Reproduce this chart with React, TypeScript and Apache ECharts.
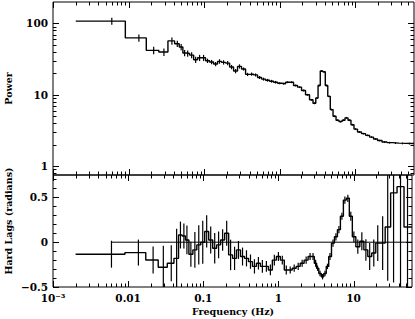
import React, { useEffect, useRef } from 'react';
import * as echarts from 'echarts';

// ---- data ----
const freqs = [0.0060, 0.0137, 0.0215, 0.0294, 0.0375, 0.0442, 0.0497, 0.0552, 0.0606, 0.0684,
  0.0773, 0.0871, 0.0984, 0.111, 0.1256, 0.142, 0.160, 0.181, 0.205, 0.231,
  0.261, 0.294, 0.333, 0.376, 0.425, 0.48, 0.542, 0.612, 0.692, 0.782,
  0.883, 1.0, 1.127, 1.273, 1.437, 1.623, 1.834, 2.07, 2.34, 2.64,
  2.89, 3.13, 3.32, 3.58, 3.87, 4.17, 4.50, 4.86, 5.33, 5.83,
  6.39, 7.0, 7.67, 8.40, 9.2, 10.1, 11.4, 12.9, 14.6, 16.4,
  18.6, 21.0, 24.4, 28.5, 34.1, 42.2, 52.3];
const power = [108, 62.7, 42, 39.8, 57, 52, 46.8, 38.5, 38, 36,
  31, 33, 33, 30, 28.8, 27, 29.4, 28.5, 27.8, 24.5,
  21.5, 25, 23, 19.3, 19.5, 19, 17.5, 16.6, 16, 15.5,
  15, 14.5, 14.3, 15, 15, 13.5, 12.8, 11.5, 10, 8.5,
  7.6, 9, 13.5, 21.5, 21, 13.5, 9.5, 6.2, 5.0, 4.4,
  4.2, 4.4, 4.75, 4.4, 3.8, 3.3, 3.0, 2.85, 2.7, 2.55,
  2.4, 2.28, 2.18, 2.13, 2.1, 2.08, 2.07];
const powerErr = [12, 7.5, 5, 4.8, 6.8, 5.2, 4.7, 3.9, 3.8, 3.6,
  3.1, 3.3, 3.3, 2.1, 2.0, 1.9, 2.1, 2.0, 1.9, 1.7,
  1.5, 1.7, 1.15, 1.0, 1.0, 0.95, 0.85, 0.8, 0.75, 0.7,
  0.65, 0.45, 0.43, 0.45, 0.45, 0.4, 0.38, 0.35, 0.3, 0.26,
  0.23, 0.27, 0.4, 0.6, 0.6, 0.4, 0.28, 0.19, 0.15, 0.13,
  0.12, 0.13, 0.14, 0.13, 0.11, 0.1, 0.09, 0.08, 0.08, 0.07,
  0.07, 0.06, 0.06, 0.06, 0.06, 0.06, 0.06];
const lags = [-0.134, -0.116, -0.198, -0.28, -0.235, -0.18, 0.08, 0.07, 0.025, -0.134,
  -0.086, -0.03, 0.0, 0.12, 0.025, -0.067, -0.03, 0.025, 0.1, -0.142,
  -0.18, -0.086, -0.16, -0.18, -0.217, -0.27, -0.235, -0.27, -0.27, -0.31,
  -0.2, -0.16, -0.2, -0.31, -0.31, -0.29, -0.27, -0.235, -0.2, -0.16,
  -0.16, -0.235, -0.29, -0.35, -0.385, -0.35, -0.27, -0.16, -0.01, 0.06,
  0.14, 0.29, 0.47, 0.49, 0.29, 0.06, -0.05, 0.01, -0.086, -0.16,
  -0.12, -0.01, -0.01, 0.17, 0.55, 0.62, 0.17];
const lagErr = [0.15, 0.145, 0.15, 0.24, 0.2, 0.33, 0.15, 0.14, 0.16, 0.14,
  0.2, 0.22, 0.24, 0.18, 0.15, 0.17, 0.15, 0.12, 0.14, 0.17,
  0.13, 0.1, 0.1, 0.09, 0.08, 0.08, 0.07, 0.07, 0.06, 0.06,
  0.06, 0.05, 0.05, 0.05, 0.04, 0.04, 0.04, 0.04, 0.04, 0.04,
  0.04, 0.04, 0.03, 0.03, 0.03, 0.03, 0.03, 0.04, 0.04, 0.04,
  0.04, 0.04, 0.04, 0.04, 0.05, 0.06, 0.08, 0.1, 0.12, 0.15,
  0.15, 0.2, 0.3, 0.6, 1.0, 1.2, 1.2];
const firstEdge = 0.002;
const lastEdge = 60;

// ---- axes ----
const xMin = 0.001;
const xMax = 60;
const xMajorTicks = [0.001, 0.01, 0.1, 1, 10];
const xTickLabels = ['10⁻³', '0.01', '0.1', '1', '10'];
const powerMin = 0.75;
const powerMax = 200;
const powerMajorTicks = [1, 10, 100];
const powerTickLabels = ['1', '10', '100'];
const lagMin = -0.5;
const lagMax = 0.75;
const lagMajorTicks = [-0.5, 0, 0.5];
const lagTickLabels = ['−0.5', '0', '0.5'];
const lagMinorTicks = [-0.4, -0.3, -0.2, -0.1, 0.1, 0.2, 0.3, 0.4, 0.6, 0.7];

const FONT = 'DejaVu Serif';

function logMinors(lo: number, hi: number): number[] {
  const out: number[] = [];
  for (let d = -4; d <= 3; d++) {
    for (let m = 2; m <= 9; m++) {
      const v = +(m * Math.pow(10, d)).toPrecision(6);
      if (v > lo && v < hi) out.push(v);
    }
  }
  return out;
}

function findLabel(v: number, ticks: number[], labels: string[], log: boolean): string {
  for (let i = 0; i < ticks.length; i++) {
    const ok = log ? Math.abs(Math.log10(v) - Math.log10(ticks[i])) < 1e-6 : Math.abs(v - ticks[i]) < 1e-9;
    if (ok) return labels[i];
  }
  return '';
}

function stepData(vals: number[]): number[][] {
  const edges: number[] = [firstEdge];
  for (let i = 1; i < freqs.length; i++) edges.push(Math.sqrt(freqs[i - 1] * freqs[i]));
  edges.push(lastEdge);
  const out: number[][] = [];
  vals.forEach((v, i) => {
    out.push([edges[i], v]);
    out.push([edges[i + 1], v]);
  });
  return out;
}

const MAJ = 6;
const MIN = 3.5;

function xTickSeries(gridIdx: number, ref: number) {
  const data = [
    ...xMajorTicks.map((v) => [v, ref, 1]),
    ...logMinors(xMin, xMax).map((v) => [v, ref, 0]),
  ];
  return {
    type: 'custom',
    xAxisIndex: gridIdx,
    yAxisIndex: gridIdx,
    silent: true,
    clip: false,
    data,
    encode: { x: 0, y: 1 },
    renderItem: (params: any, api: any) => {
      const cs = params.coordSys;
      const px = Math.round(api.coord([api.value(0), api.value(1)])[0]) + 0.5;
      const len = api.value(2) ? MAJ : MIN;
      const st = { stroke: '#000', lineWidth: 1 };
      return {
        type: 'group',
        children: [
          { type: 'line', shape: { x1: px, y1: cs.y, x2: px, y2: cs.y + len }, style: st },
          { type: 'line', shape: { x1: px, y1: cs.y + cs.height, x2: px, y2: cs.y + cs.height - len }, style: st },
        ],
      };
    },
  };
}

function yTickSeries(gridIdx: number, ref: number, majors: number[], minors: number[]) {
  const data = [...majors.map((v) => [ref, v, 1]), ...minors.map((v) => [ref, v, 0])];
  return {
    type: 'custom',
    xAxisIndex: gridIdx,
    yAxisIndex: gridIdx,
    silent: true,
    clip: false,
    data,
    encode: { x: 0, y: 1 },
    renderItem: (params: any, api: any) => {
      const cs = params.coordSys;
      const py = Math.round(api.coord([api.value(0), api.value(1)])[1]) + 0.5;
      const len = api.value(2) ? MAJ : MIN;
      const st = { stroke: '#000', lineWidth: 1 };
      return {
        type: 'group',
        children: [
          { type: 'line', shape: { x1: cs.x, y1: py, x2: cs.x + len, y2: py }, style: st },
          { type: 'line', shape: { x1: cs.x + cs.width, y1: py, x2: cs.x + cs.width - len, y2: py }, style: st },
        ],
      };
    },
  };
}

function errSeries(gridIdx: number, vals: number[], errs: number[]) {
  return {
    type: 'custom',
    xAxisIndex: gridIdx,
    yAxisIndex: gridIdx,
    silent: true,
    clip: true,
    data: freqs.map((f, i) => [f, vals[i], errs[i]]),
    encode: { x: 0, y: 1 },
    renderItem: (params: any, api: any) => {
      const f = api.value(0);
      const v = api.value(1);
      const e = api.value(2);
      const p1 = api.coord([f, v - e]);
      const p2 = api.coord([f, v + e]);
      return {
        type: 'line',
        shape: { x1: p1[0], y1: p1[1], x2: p2[0], y2: p2[1] },
        style: { stroke: '#000', lineWidth: 1.2 },
      };
    },
  };
}

export default function App() {
  const ref = useRef<HTMLDivElement>(null);
  useEffect(() => {
    if (!ref.current) return;
    const chart = echarts.init(ref.current, undefined, { renderer: 'svg' });
    const labelFont = { fontFamily: FONT, fontWeight: 'bold' as const, fontSize: 10.5, color: '#000' };
    const titleStyle = { fontFamily: FONT, fontWeight: 'bold', fontSize: 9.5, fill: '#000' };
    const hiddenAxisParts = { axisLine: { show: false }, axisTick: { show: false }, splitLine: { show: false } };
    chart.setOption({
      animation: false,
      backgroundColor: '#ffffff',
      grid: [
        { left: 53, right: 1, top: 2, height: 173, show: true, borderColor: '#000', borderWidth: 1 },
        { left: 53, right: 1, top: 175, height: 112, show: true, borderColor: '#000', borderWidth: 1 },
      ],
      xAxis: [
        { type: 'log', logBase: 10, gridIndex: 0, min: xMin, max: xMax, ...hiddenAxisParts, axisLabel: { show: false } },
        {
          type: 'log', logBase: 10, gridIndex: 1, min: xMin, max: xMax, ...hiddenAxisParts,
          axisLabel: { ...labelFont, margin: 5, showMinLabel: true, showMaxLabel: true,
            formatter: (v: number) => findLabel(v, xMajorTicks, xTickLabels, true) },
        },
      ],
      yAxis: [
        {
          type: 'log', logBase: 10, gridIndex: 0, min: powerMin, max: powerMax, ...hiddenAxisParts,
          axisLabel: { ...labelFont, margin: 5, formatter: (v: number) => findLabel(v, powerMajorTicks, powerTickLabels, true) },
        },
        {
          type: 'value', gridIndex: 1, min: lagMin, max: lagMax, interval: 0.5, ...hiddenAxisParts,
          axisLabel: { ...labelFont, margin: 5, formatter: (v: number) => findLabel(v, lagMajorTicks, lagTickLabels, false) },
        },
      ],
      graphic: [
        { type: 'text', x: 8, y: 88.5, rotation: Math.PI / 2, style: { ...titleStyle, text: 'Power', align: 'center', verticalAlign: 'middle' } },
        { type: 'text', x: 8, y: 221, rotation: Math.PI / 2, style: { ...titleStyle, text: 'Hard Lags (radians)', align: 'center', verticalAlign: 'middle' } },
        { type: 'text', x: 233, y: 311, style: { ...titleStyle, text: 'Frequency (Hz)', align: 'center', verticalAlign: 'middle' } },
      ],
      series: [
        {
          type: 'line', xAxisIndex: 0, yAxisIndex: 0, data: stepData(power), showSymbol: false, silent: true,
          lineStyle: { color: '#000', width: 1.4 },
        },
        errSeries(0, power, powerErr),
        {
          type: 'line', xAxisIndex: 1, yAxisIndex: 1, data: stepData(lags), showSymbol: false, silent: true,
          lineStyle: { color: '#000', width: 1.4 },
        },
        errSeries(1, lags, lagErr),
        {
          type: 'line', xAxisIndex: 1, yAxisIndex: 1, data: [[freqs[0], 0], [xMax, 0]], showSymbol: false, silent: true,
          lineStyle: { color: '#000', width: 1 },
        },
        xTickSeries(0, 1),
        xTickSeries(1, 0),
        yTickSeries(0, 1, powerMajorTicks, logMinors(powerMin, powerMax)),
        yTickSeries(1, 1, lagMajorTicks, lagMinorTicks),
      ],
    });
    return () => chart.dispose();
  }, []);
  return <div ref={ref} style={{ position: 'absolute', left: 0, top: 0, width: 415, height: 319 }} />;
}
